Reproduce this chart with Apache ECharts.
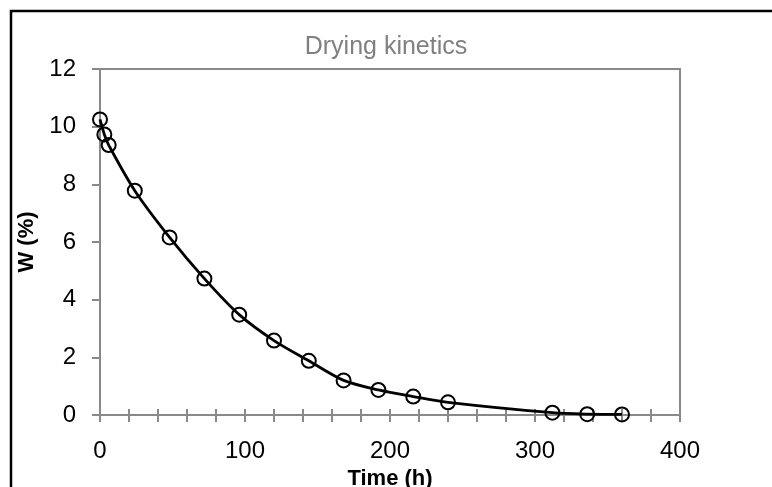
<!DOCTYPE html>
<html>
<head>
<meta charset="utf-8">
<script src="https://cdn.jsdelivr.net/npm/echarts@6/dist/echarts.min.js"></script>
<style>html,body{margin:0;padding:0;background:#fff}#c{width:772px;height:487px}</style>
</head>
<body>
<div id="c"></div>
<script>
const titleText = 'Drying kinetics';
const xTitle = 'Time (h)';
const yTitle = 'W (%)';
const timeH = [0, 3, 6, 24, 48, 72, 96, 120, 144, 168, 192, 216, 240, 312, 336, 360];
const wPct = [10.25, 9.73, 9.36, 7.78, 6.16, 4.73, 3.48, 2.58, 1.88, 1.20, 0.87, 0.64, 0.44, 0.08, 0.03, 0.02];
const xMin = 0, xMax = 400, xMinorStep = 20, xLabelStep = 100;
const yMin = 0, yMax = 12, yStep = 2;

const axisGray = '#898989';
const chart = echarts.init(document.getElementById('c'), null, {renderer: 'canvas'});
const pts = timeH.map((t, i) => [t, wPct[i]]);
chart.setOption({
  animation: false,
  title: {
    text: titleText, left: 'center', top: 30,
    textStyle: {fontFamily: 'Liberation Sans, Arial', fontWeight: 'normal', fontSize: 25, color: '#808080'}
  },
  graphic: [{
    type: 'polyline', silent: true, z: 100,
    shape: {points: [[11, 487], [11, 11], [772, 11]]},
    style: {fill: 'none', stroke: '#000', lineWidth: 2.5}
  }],
  grid: {left: 100, top: 69, right: 92, bottom: 72, containLabel: false, outerBoundsMode: 'none',
    show: true, borderColor: axisGray, borderWidth: 2, backgroundColor: 'transparent'},
  xAxis: [{
    type: 'value', min: xMin, max: xMax, interval: xMinorStep,
    name: xTitle, nameLocation: 'middle', nameGap: 47,
    nameTextStyle: {fontFamily: 'Liberation Sans, Arial', fontWeight: 'bold', fontSize: 22, color: '#000'},
    axisLine: {show: true, lineStyle: {color: axisGray, width: 2}},
    axisTick: {show: true, inside: false, length: 7, lineStyle: {color: axisGray, width: 2}},
    axisLabel: {margin: 24, fontFamily: 'Liberation Sans, Arial', fontSize: 24, color: '#000',
      formatter: v => (v % xLabelStep === 0 ? String(v) : '')},
    splitLine: {show: false}
  }, {
    type: 'value', min: xMin, max: xMax, interval: xMinorStep, position: 'bottom',
    axisLine: {show: false},
    axisTick: {show: true, inside: true, length: 6, lineStyle: {color: axisGray, width: 2}},
    axisLabel: {show: false}, splitLine: {show: false}
  }],
  yAxis: {
    type: 'value', min: yMin, max: yMax, interval: yStep,
    name: yTitle, nameLocation: 'middle', nameGap: 57,
    nameTextStyle: {fontFamily: 'Liberation Sans, Arial', fontWeight: 'bold', fontSize: 22, color: '#000'},
    axisLine: {show: true, lineStyle: {color: axisGray, width: 2}},
    axisTick: {show: true, inside: false, length: 8, lineStyle: {color: axisGray, width: 2}},
    axisLabel: {margin: 24, fontFamily: 'Liberation Sans, Arial', fontSize: 24, color: '#000'},
    splitLine: {show: false}
  },
  series: [{
    type: 'line', data: pts, smooth: 0.3,
    symbol: 'circle', symbolSize: 14, showSymbol: true,
    lineStyle: {color: '#000', width: 2.8},
    itemStyle: {color: 'rgba(0,0,0,0)', borderColor: '#000', borderWidth: 2},
    z: 5
  }]
});
</script>
</body>
</html>
